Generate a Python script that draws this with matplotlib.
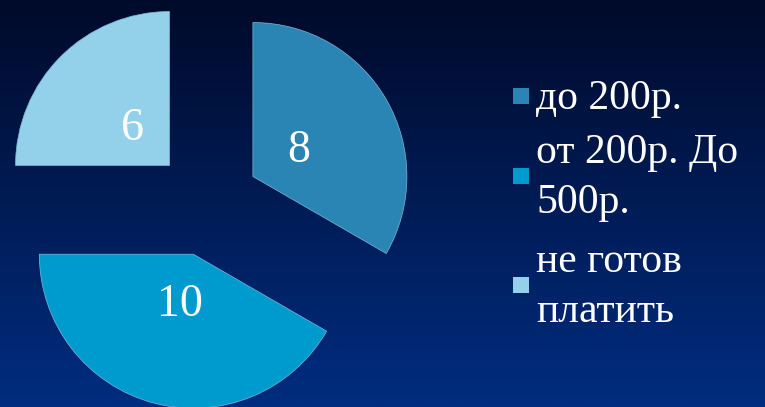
import numpy as np
import matplotlib
matplotlib.use("Agg")
import matplotlib.pyplot as plt
from matplotlib.patches import Rectangle

# ------------------------------------------------------------------
# Data
# ------------------------------------------------------------------
VALUES = [8, 10, 6]
LABELS = ["до 200р.", "от 200р. До\n500р.", "не готов\nплатить"]
COLORS = ["#2A84B4", "#009BCE", "#93D1EA"]

W, H = 765, 407


def plot_pie():
    fig = plt.figure(figsize=(W / 100, H / 100), dpi=100)
    ax = fig.add_axes([0, 0, 1, 1])

    # background: vertical gradient, dark navy at top to blue at bottom
    top = np.array([0x00, 0x0A, 0x2A]) / 255
    bot = np.array([0x00, 0x2D, 0x80]) / 255
    t = np.linspace(0, 1, 256)[:, None]
    grad = (top + (bot - top) * t)[:, None, :]
    ax.imshow(grad, extent=[0, W, 0, H], origin="upper", aspect="auto",
              zorder=0)

    total = sum(VALUES)
    # explode is in data units here (pixels), since radius is set explicitly
    wedges, _, autotexts = ax.pie(
        VALUES, colors=COLORS, startangle=90, counterclock=False,
        center=(207, H - 203), radius=154, explode=[53] * 3,
        autopct=lambda p: f"{p * total / 100:.0f}", pctdistance=0.34,
        textprops=dict(color="white", fontsize=33, family="Liberation Serif"),
        wedgeprops=dict(linewidth=0.5, edgecolor="#7FB8D8"),
        frame=True,
    )
    for w in wedges:
        w.set_zorder(2)
    for a in autotexts:
        a.set_zorder(3)

    # legend drawn by hand: square marker + wrapped label lines
    sq = 16
    ys = [96, 176, 285]
    line_h = 51
    for yc, lab, col in zip(ys, LABELS, COLORS):
        ax.add_patch(Rectangle((513, H - yc - sq / 2), sq, sq,
                               facecolor=col, edgecolor="none", zorder=3))
        lines = lab.split("\n")
        if len(lines) == 1:
            base = [yc + 13]
        else:
            mid = yc + 12
            base = [mid - line_h / 2, mid + line_h / 2]
        for b, txt in zip(base, lines):
            ax.text(536, H - b, txt, fontsize=30, color="white",
                    family="Liberation Serif", ha="left", va="baseline",
                    zorder=3)

    ax.set_xlim(0, W)
    ax.set_ylim(0, H)
    ax.set_aspect("equal")
    ax.axis("off")

    fig.savefig("out.png", dpi=100)
    plt.close(fig)


if __name__ == "__main__":
    plot_pie()
